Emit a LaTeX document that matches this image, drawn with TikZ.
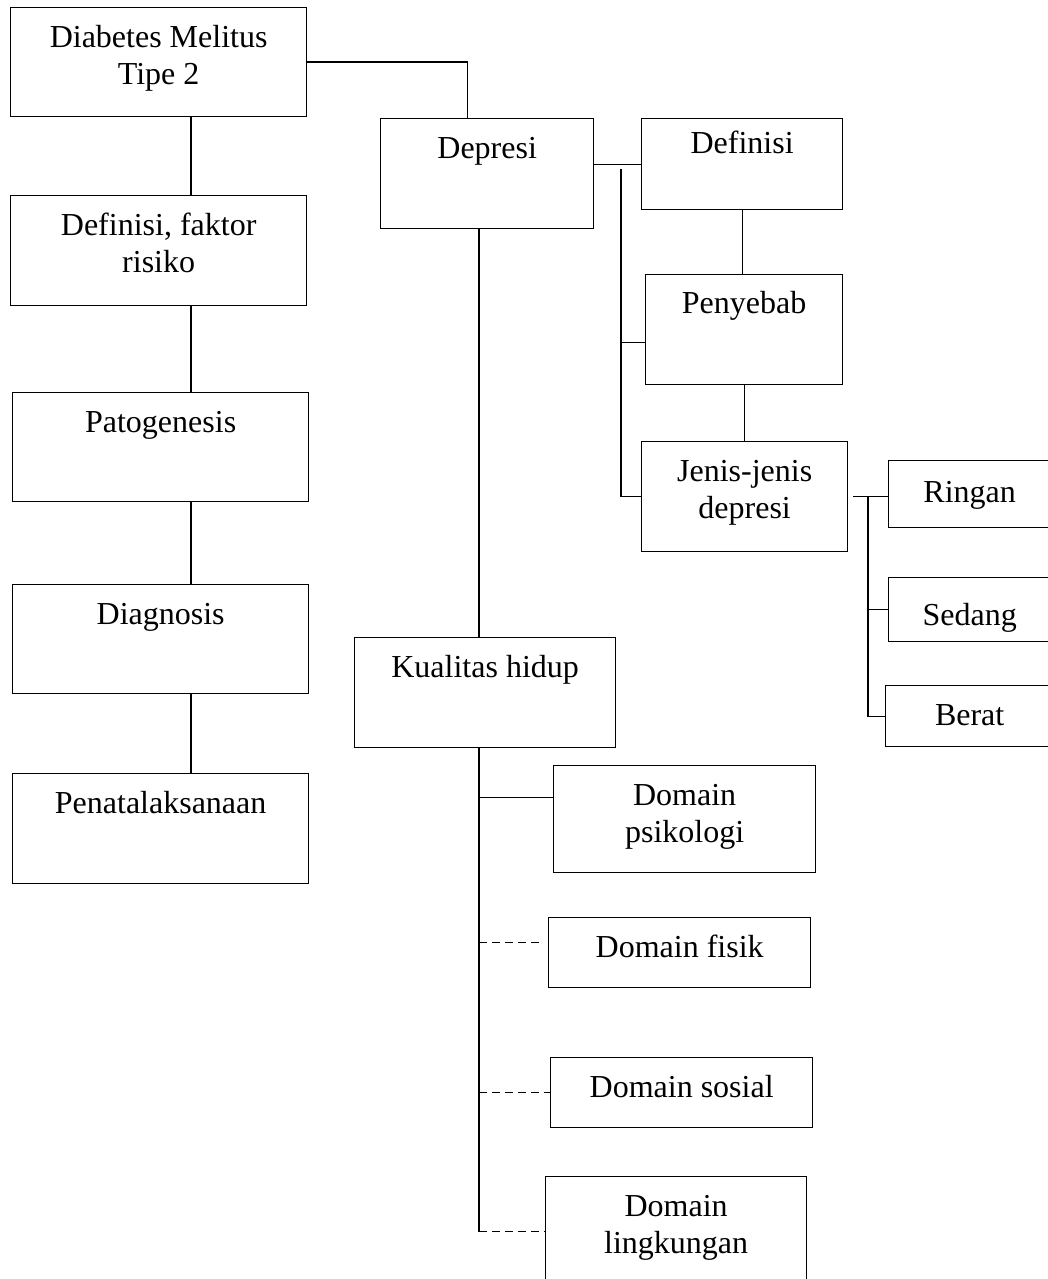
\documentclass[tikz,border=0pt]{standalone}
\usepackage{fontspec}
\setmainfont{Liberation Serif}
\newcommand{\boxlabel}[4][40pt]{\parbox[c][#3][t]{#2}{\centering\rule{0pt}{#1}#4}}

\begin{document}
\begin{tikzpicture}[
    x=1pt,
    y=-1pt,
    box/.style={
        draw,
        line width=1.3pt,
        inner sep=0pt,
        anchor=north west,
        font=\fontsize{32}{37}\selectfont
    },
    link/.style={draw,line width=1.3pt},
    weaklink/.style={link,dash pattern=on 8pt off 5pt}
]

\useasboundingbox (0,0) rectangle (1047,1279);

\node[box] (dm)   at (10,7)    {\boxlabel{296pt}{109pt}{Diabetes Melitus\\Tipe 2}};
\node[box] (df)   at (10,195)  {\boxlabel{296pt}{110pt}{Definisi, faktor\\risiko}};
\node[box] (pat)  at (12,392)  {\boxlabel{296pt}{109pt}{Patogenesis}};
\node[box] (diag) at (12,584)  {\boxlabel{296pt}{109pt}{Diagnosis}};
\node[box] (pen)  at (12,773)  {\boxlabel{296pt}{110pt}{Penatalaksanaan}};

\node[box] (dep)  at (380,118) {\boxlabel{213pt}{110pt}{Depresi}};
\node[box] (def)  at (641,118) {\boxlabel[35pt]{201pt}{91pt}{Definisi}};
\node[box] (peny) at (645,274) {\boxlabel[39pt]{197pt}{110pt}{Penyebab}};
\node[box] (jen)  at (641,441) {\boxlabel{206pt}{110pt}{Jenis-jenis\\depresi}};
\node[box] (rin)  at (888,460) {\boxlabel[42pt]{162pt}{67pt}{Ringan}};
\node[box] (sed)  at (888,577) {\boxlabel[48pt]{162pt}{64pt}{Sedang}};
\node[box] (ber)  at (885,685) {\boxlabel{168pt}{61pt}{Berat}};

\node[box] (kual) at (354,637) {\boxlabel{261pt}{110pt}{Kualitas hidup}};
\node[box] (psi)  at (553,765) {\boxlabel{262pt}{107pt}{Domain\\psikologi}};
\node[box] (fis)  at (548,917) {\boxlabel{262pt}{70pt}{Domain fisik}};
\node[box] (sos)  at (550,1057) {\boxlabel{262pt}{70pt}{Domain sosial}};
\node[box] (ling) at (545,1176) {\boxlabel{261pt}{110pt}{Domain\\lingkungan}};

\coordinate (spine) at (191,0);
\coordinate (trunk) at (479,0);
\coordinate (bus)   at (621,0);
\coordinate (sub)   at (868,0);

\path[link] (dm.east) -| ([xshift=-19.5pt]dep.north);
\path[link] (dm.south -| spine) -- (df.north -| spine);
\path[link] (df.south -| spine) -- (pat.north -| spine);
\path[link] (pat.south -| spine) -- (diag.north -| spine);
\path[link] (diag.south -| spine) -- (pen.north -| spine);

\path[link] (def.west -| dep.east) -- (def.west);
\path[link] ([yshift=-5pt]def.west -| bus) -- (jen.west -| bus) -- (jen.west);
\path[link] ([yshift=-13pt]peny.west -| bus) -- ([yshift=-13pt]peny.west);
\path[link] (def.south) -- (def.south |- peny.north);
\path[link] (peny.south) -- (peny.south |- jen.north);

\path[link] ([xshift=5pt]jen.east) -- (jen.east -| rin.west);
\path[link] (jen.east -| sub) |- (ber.west);
\path[link] (sed.west -| sub) -- (sed.west);

\path[link] (dep.south -| trunk) -- (kual.north -| trunk);
\path[link] (kual.south -| trunk) -- (ling.west -| trunk);
\path[link] ([yshift=22pt]psi.west -| trunk) -- ([yshift=22pt]psi.west);
\path[weaklink] ([yshift=10pt]fis.west -| trunk) -- ([xshift=-6pt,yshift=10pt]fis.west);
\path[weaklink] (sos.west -| trunk) -- (sos.west);
\path[weaklink] (ling.west -| trunk) -- (ling.west);

\end{tikzpicture}
\end{document}
